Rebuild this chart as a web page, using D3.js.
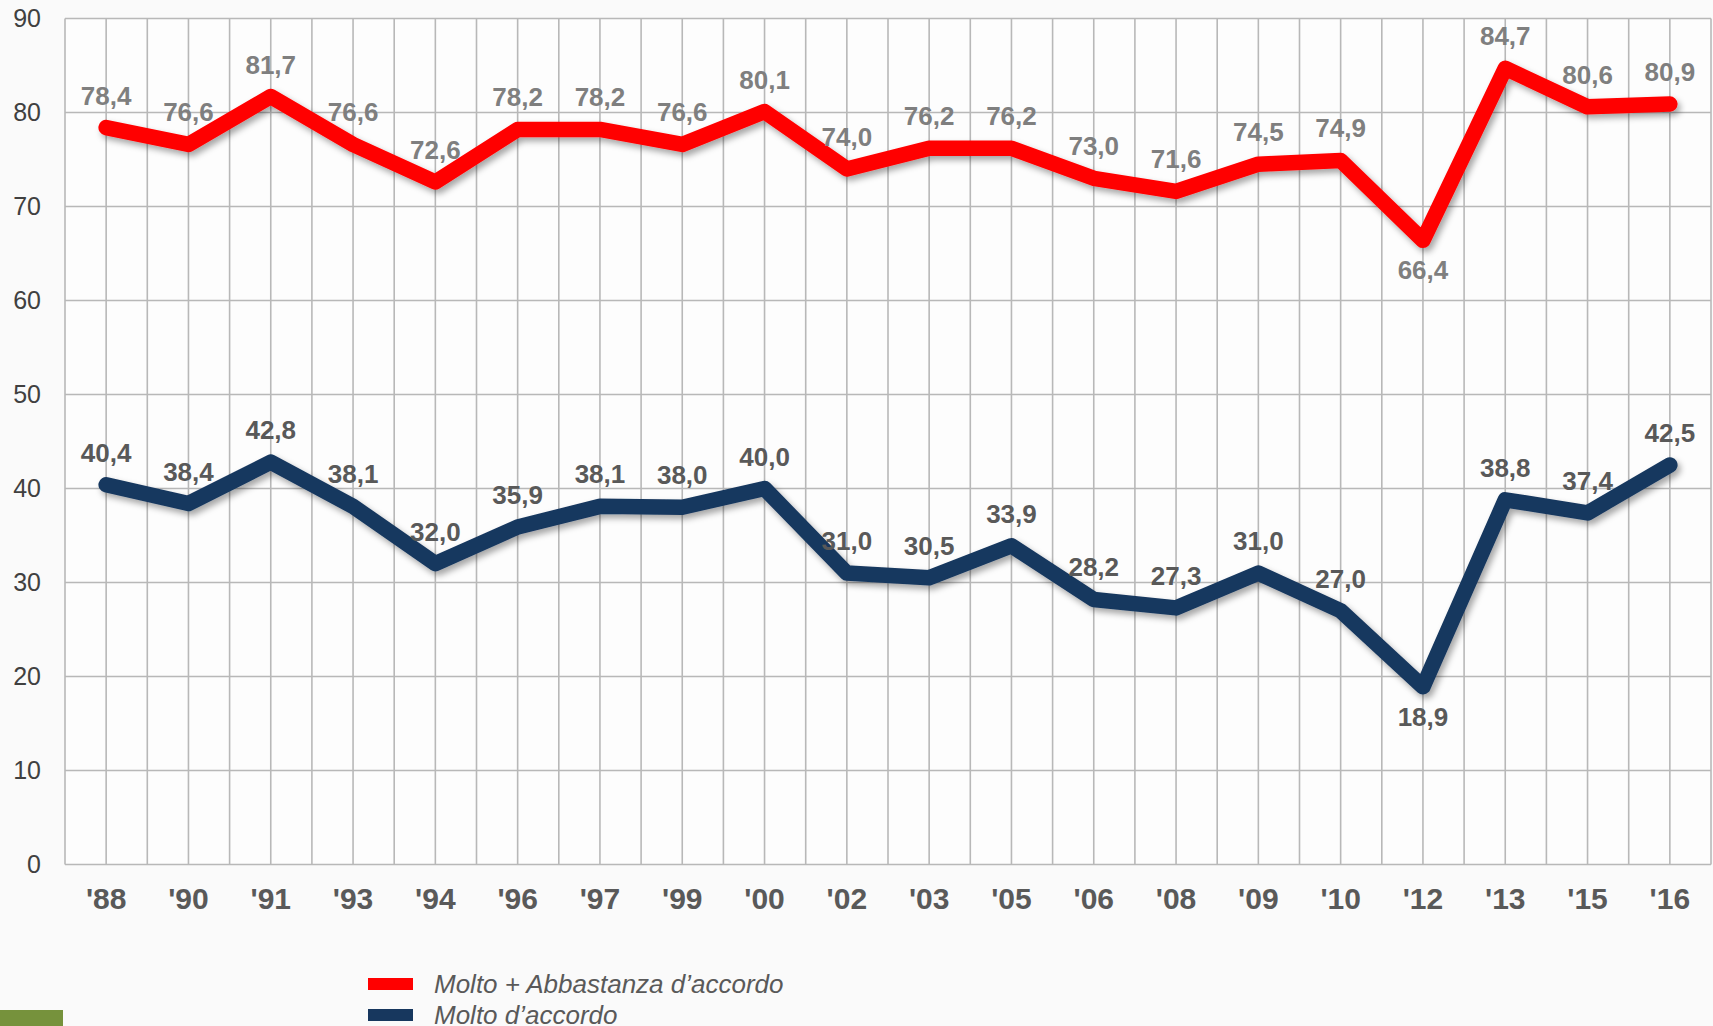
<!DOCTYPE html>
<html>
<head>
<meta charset="utf-8">
<script src="https://cdn.jsdelivr.net/npm/d3@7"></script>
<style>
  body { margin: 0; background: #fafafa; }
  svg { display: block; font-family: "Liberation Sans", Arial, sans-serif; }
</style>
</head>
<body>
<svg id="chart" width="1713" height="1026"></svg>
<script>
var years = ["'88", "'90", "'91", "'93", "'94", "'96", "'97", "'99", "'00", "'02", "'03", "'05", "'06", "'08", "'09", "'10", "'12", "'13", "'15", "'16"];
var moltoAbbastanza = [78.4, 76.6, 81.7, 76.6, 72.6, 78.2, 78.2, 76.6, 80.1, 74.0, 76.2, 76.2, 73.0, 71.6, 74.5, 74.9, 66.4, 84.7, 80.6, 80.9];
var molto = [40.4, 38.4, 42.8, 38.1, 32.0, 35.9, 38.1, 38.0, 40.0, 31.0, 30.5, 33.9, 28.2, 27.3, 31.0, 27.0, 18.9, 38.8, 37.4, 42.5];
var yTicks = [0, 10, 20, 30, 40, 50, 60, 70, 80, 90];
var seriesNames = ["Molto + Abbastanza d\u2019accordo", "Molto d\u2019accordo"];

var svg = d3.select("#chart");
var width = +svg.attr("width");
var height = +svg.attr("height");

// plot area
var plotLeft = 65, plotRight = 1711, plotTop = 18.5, plotBottom = 864.5;

var xScale = d3.scaleBand().domain(years).range([plotLeft, plotRight]);
var yScale = d3.scaleLinear().domain([0, 90]).range([plotBottom, plotTop]);
var cx = function (i) { return xScale(years[i]) + xScale.bandwidth() / 2; };

svg.append("rect").attr("width", width).attr("height", height).attr("fill", "#fafafa");

var defs = svg.append("defs");
defs.append("filter").attr("id", "shadow")
  .attr("x", "-5%").attr("y", "-20%").attr("width", "110%").attr("height", "140%")
  .append("feDropShadow")
  .attr("dx", 3).attr("dy", 4).attr("stdDeviation", 3)
  .attr("flood-color", "#000").attr("flood-opacity", 0.35);

// plot background
svg.append("rect")
  .attr("x", plotLeft).attr("y", plotTop)
  .attr("width", plotRight - plotLeft).attr("height", plotBottom - plotTop)
  .attr("fill", "#ffffff").attr("fill-opacity", 0.6);

// vertical gridlines: band edges and centres
var grid = svg.append("g").attr("stroke", "#b8b8b8").attr("stroke-width", 1.6);
years.forEach(function (y, i) {
  [xScale(y), cx(i)].forEach(function (x) {
    grid.append("line").attr("x1", x).attr("x2", x).attr("y1", plotTop).attr("y2", plotBottom);
  });
});
grid.append("line").attr("x1", plotRight).attr("x2", plotRight).attr("y1", plotTop).attr("y2", plotBottom);
yTicks.forEach(function (t) {
  grid.append("line").attr("x1", plotLeft).attr("x2", plotRight).attr("y1", yScale(t)).attr("y2", yScale(t));
});

// y axis
var leftAxis = d3.axisLeft(yScale).tickValues(yTicks).tickSize(0).tickPadding(24);
var ya = svg.append("g").attr("transform", "translate(" + plotLeft + ",0)").call(leftAxis);
ya.select(".domain").remove();
ya.selectAll("text")
  .style("font-family", "Liberation Sans, Arial, sans-serif")
  .attr("font-size", 25).attr("fill", "#404040");

// x axis
var bottomAxis = d3.axisBottom(xScale).tickSize(0).tickPadding(23);
var xa = svg.append("g").attr("transform", "translate(0," + plotBottom + ")").call(bottomAxis);
xa.select(".domain").remove();
xa.selectAll("text")
  .style("font-family", "Liberation Sans, Arial, sans-serif")
  .attr("font-size", 30).attr("font-weight", "bold").attr("fill", "#595959");

var line = d3.line()
  .x(function (d, i) { return cx(i); })
  .y(function (d) { return yScale(d); });

var fmt = function (v) { return d3.format(".1f")(v).replace(".", ","); };

function drawSeries(values, color, labelColor, belowIdx) {
  svg.append("path")
    .datum(values)
    .attr("d", line)
    .attr("fill", "none")
    .attr("stroke", color)
    .attr("stroke-width", 15.5)
    .attr("stroke-linejoin", "round")
    .attr("stroke-linecap", "round")
    .attr("filter", "url(#shadow)");

  svg.append("g").selectAll("text")
    .data(values)
    .enter().append("text")
    .attr("x", function (d, i) { return cx(i); })
    .attr("y", function (d, i) { return belowIdx.indexOf(i) >= 0 ? yScale(d) + 39 : yScale(d) - 23; })
    .attr("text-anchor", "middle")
    .attr("font-size", 26)
    .attr("font-weight", "bold")
    .attr("fill", labelColor)
    .text(fmt);
}

drawSeries(moltoAbbastanza, "#ff0000", "#7f7f7f", [16]);
drawSeries(molto, "#17375e", "#595959", [16]);

// legend
var legend = svg.append("g");
var legendColors = ["#ff0000", "#17375e"];
seriesNames.forEach(function (name, i) {
  var y = 978 + i * 31;
  legend.append("rect")
    .attr("x", 368).attr("y", y).attr("width", 45).attr("height", 12)
    .attr("fill", legendColors[i]);
  legend.append("text")
    .attr("x", 434).attr("y", y + 15)
    .attr("font-size", 26).attr("font-style", "italic")
    .attr("fill", "#595959")
    .text(name);
});

// green corner block
svg.append("rect").attr("x", 0).attr("y", 1010).attr("width", 63).attr("height", 16).attr("fill", "#76923c");
</script>
</body>
</html>
